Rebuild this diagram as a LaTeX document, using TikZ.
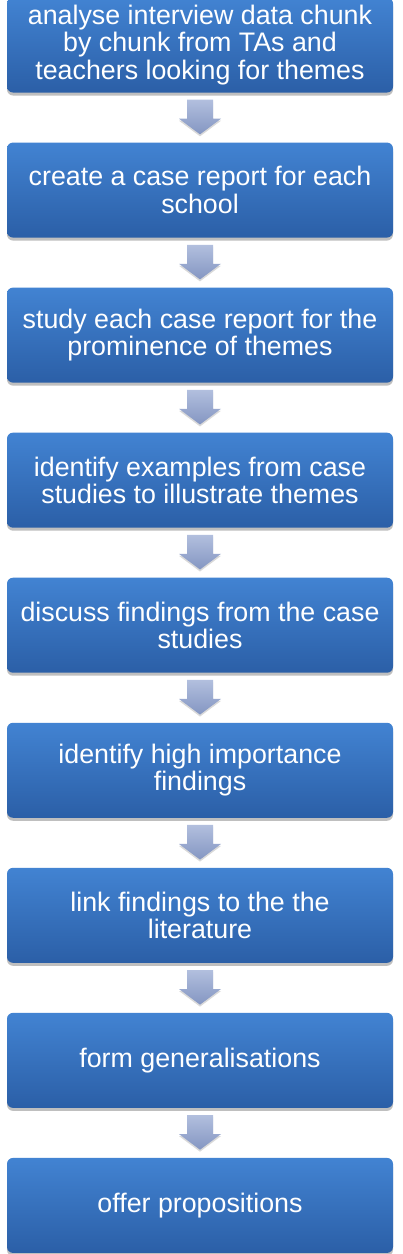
\documentclass[tikz,border=0pt]{standalone}
\usepackage{fontspec}
\setmainfont{Liberation Sans}
\usetikzlibrary{positioning,calc,shadows}

\definecolor{boxtop}{RGB}{66,131,210}
\definecolor{boxbot}{RGB}{43,95,167}
\definecolor{arrtop}{RGB}{178,191,222}
\definecolor{arrbot}{RGB}{132,150,194}

\begin{document}
\begin{tikzpicture}[
  x=1pt, y=1pt,
  node distance=49.65pt,
  stage/.style={rounded corners=6pt, minimum width=386pt, minimum height=95pt,
                inner sep=0pt, align=center, text=white,
                top color=boxtop, bottom color=boxbot,
                font=\fontsize{26.8}{27.4}\selectfont,
                drop shadow={shadow xshift=0pt, shadow yshift=-3pt,
                             opacity=0.25, fill=black}},
  flow/.style={top color=arrtop, bottom color=arrbot,
               drop shadow={shadow xshift=0pt, shadow yshift=-2pt,
                            opacity=0.15, fill=black}},
]
\useasboundingbox (0,0) rectangle (403,-1254);

%% --- Etapas ---
\node[stage] (analyse) at (200,-45)
      {analyse interview data chunk\\by chunk from TAs and\\teachers looking for themes};

\node[stage, below=of analyse] (report)
      {create a case report for each\\school};

\node[stage, below=of report] (study)
      {study each case report for the\\prominence of themes};

\node[stage, below=of study] (examples)
      {identify examples from case\\studies to illustrate themes};

\node[stage, below=of examples] (discuss)
      {discuss findings from the case\\studies};

\node[stage, below=of discuss] (important)
      {identify high importance\\findings};

\node[stage, below=of important] (literature)
      {link findings to the the\\literature};

\node[stage, below=of literature] (general)
      {form generalisations};

\node[stage, below=of general] (offer)
      {offer propositions};

%% --- Flechas ---
\foreach \a/\b in {analyse/report, report/study, study/examples,
                   examples/discuss, discuss/important, important/literature,
                   literature/general, general/offer}
  \shade[flow] ($(\a.south)+(-13,-7)$) -- ($(\a.south)+(13,-7)$)
    -- ($(\a.south)+(13,-26)$) -- ($(\a.south)+(21,-26)$)
    -- ($(\b.north)+(0,8)$)
    -- ($(\a.south)+(-21,-26)$) -- ($(\a.south)+(-13,-26)$) -- cycle;

\end{tikzpicture}
\end{document}
